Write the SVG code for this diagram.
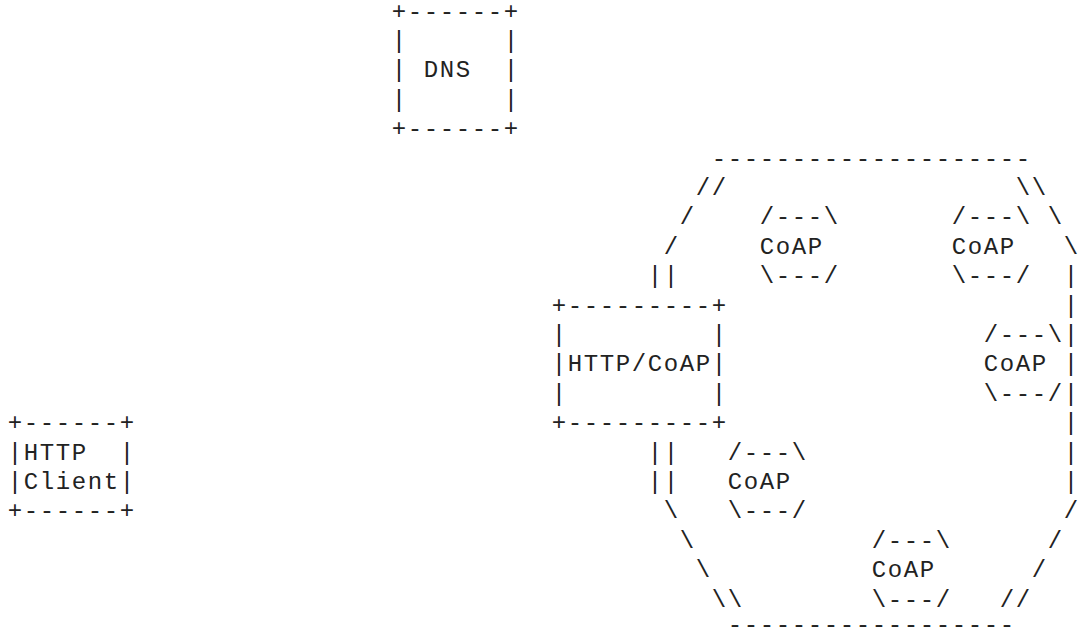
<svg xmlns="http://www.w3.org/2000/svg" width="1085" height="630" viewBox="0 0 1085 630">
<style>
text { font-family: "Liberation Mono", "DejaVu Sans Mono", monospace; font-size: 24px; letter-spacing: 1.6px; fill: #222; white-space: pre; }
</style>
<rect width="1085" height="630" fill="#fff"/>
<g id="dns" xml:space="preserve">
<text x="391.8" y="18.5">+------+</text>
<text x="391.8" y="47.9">|      |</text>
<text x="391.8" y="77.3">| DNS  |</text>
<text x="391.8" y="106.7">|      |</text>
<text x="391.8" y="136.1">+------+</text>
</g>
<g id="http-client" xml:space="preserve">
<text x="7.8" y="430.1">+------+</text>
<text x="7.8" y="459.5">|HTTP  |</text>
<text x="7.8" y="488.9">|Client|</text>
<text x="7.8" y="518.3">+------+</text>
</g>
<g id="http-coap-proxy" xml:space="preserve">
<text x="551.8" y="312.5">+---------+</text>
<text x="551.8" y="341.9">|         |</text>
<text x="551.8" y="371.3">|HTTP/CoAP|</text>
<text x="551.8" y="400.7">|         |</text>
<text x="551.8" y="430.1">+---------+</text>
</g>
<g id="coap-1">
<text x="759.8" y="224.3">/---\</text>
<text x="759.8" y="253.7">CoAP</text>
<text x="759.8" y="283.1">\---/</text>
</g>
<g id="coap-2">
<text x="951.8" y="224.3">/---\</text>
<text x="951.8" y="253.7">CoAP</text>
<text x="951.8" y="283.1">\---/</text>
</g>
<g id="coap-3">
<text x="983.8" y="341.9">/---\</text>
<text x="983.8" y="371.3">CoAP</text>
<text x="983.8" y="400.7">\---/</text>
</g>
<g id="coap-4">
<text x="727.8" y="459.5">/---\</text>
<text x="727.8" y="488.9">CoAP</text>
<text x="727.8" y="518.3">\---/</text>
</g>
<g id="coap-5">
<text x="871.8" y="547.7">/---\</text>
<text x="871.8" y="577.1">CoAP</text>
<text x="871.8" y="606.5">\---/</text>
</g>
<g id="connectors">
<text x="711.8" y="165.5">--------------------</text>
<text x="695.8" y="194.9">//</text>
<text x="1015.8" y="194.9">\\</text>
<text x="679.8" y="224.3">/</text>
<text x="1047.8" y="224.3">\</text>
<text x="663.8" y="253.7">/</text>
<text x="1063.8" y="253.7">\</text>
<text x="647.8" y="283.1">||</text>
<text x="1063.8" y="283.1">|</text>
<text x="1063.8" y="312.5">|</text>
<text x="1063.8" y="341.9">|</text>
<text x="1063.8" y="371.3">|</text>
<text x="1063.8" y="400.7">|</text>
<text x="1063.8" y="430.1">|</text>
<text x="647.8" y="459.5">||</text>
<text x="1063.8" y="459.5">|</text>
<text x="647.8" y="488.9">||</text>
<text x="1063.8" y="488.9">|</text>
<text x="663.8" y="518.3">\</text>
<text x="1063.8" y="518.3">/</text>
<text x="679.8" y="547.7">\</text>
<text x="1047.8" y="547.7">/</text>
<text x="695.8" y="577.1">\</text>
<text x="1031.8" y="577.1">/</text>
<text x="711.8" y="606.5">\\</text>
<text x="999.8" y="606.5">//</text>
<text x="727.8" y="632">------------------</text>
</g>
</svg>
